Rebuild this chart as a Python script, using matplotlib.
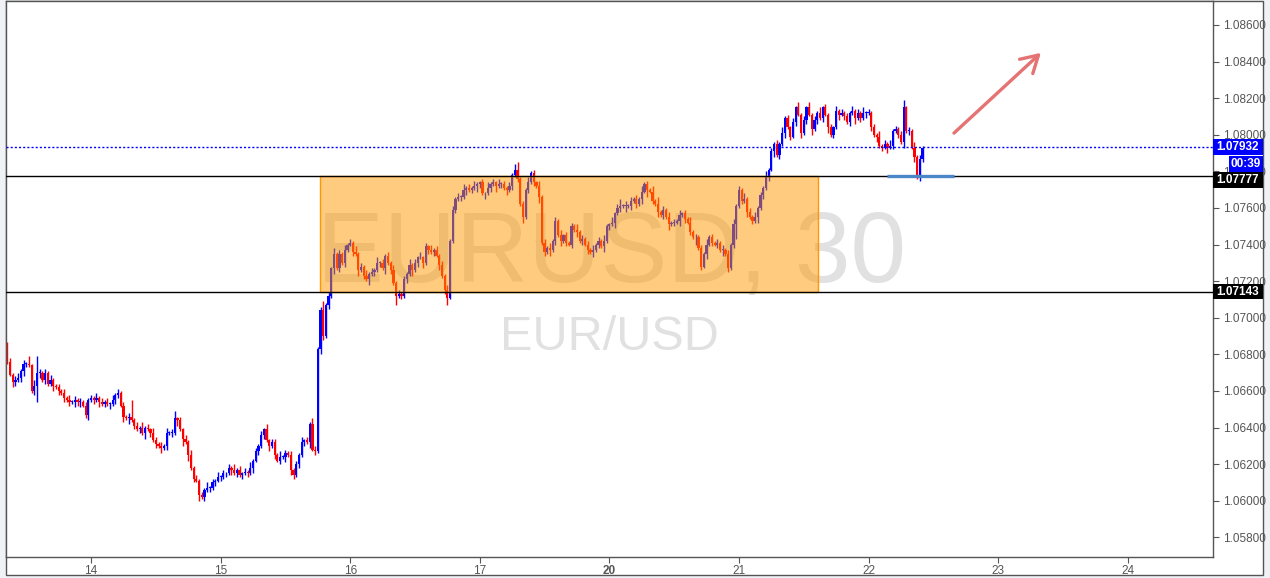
import numpy as np
import matplotlib
matplotlib.use("Agg")
import matplotlib.pyplot as plt
from matplotlib.patches import Rectangle
from matplotlib.transforms import blended_transform_factory

plt.rcParams['font.family'] = ['Liberation Sans', 'DejaVu Sans']

# EUR/USD 30-minute closes, in pips above 1.06000
first_open = 78
pre_close = [76, 69, 65, 66, 67, 71, 75, 75, 74, 60, 63, 70, 70, 66, 70, 64,
             66, 63, 62, 60, 59, 56, 55, 54, 54, 55, 54, 54, 52, 47, 55]
day14_close = [56, 55, 56, 54, 53, 54, 53, 53, 55, 58, 59, 52, 46, 45, 46, 44,
               41, 39, 40, 37, 40, 39, 37, 33, 31, 30, 29, 30, 37, 37, 37, 45,
               44, 39, 34, 32, 25, 18, 12, 11, 3, 2, 6, 7, 7, 10, 11, 13]
day15_close = [13, 15, 15, 18, 17, 15, 17, 14, 15, 16, 15, 18, 22, 27, 30, 36,
               39, 33, 30, 32, 25, 22, 24, 24, 26, 25, 17, 14, 20, 25, 32, 33,
               32, 42, 28, 27, 83, 104, 90, 107, 112, 127, 135, 127, 135, 130, 137, 140]
day16_close = [141, 136, 135, 126, 128, 123, 121, 124, 125, 126, 130, 130, 127, 134, 130, 126,
               119, 112, 113, 112, 121, 124, 129, 126, 130, 133, 133, 130, 139, 137, 136, 137,
               134, 129, 123, 115, 111, 142, 159, 165, 166, 166, 170, 171, 170, 171, 172, 173]
day17_close = [174, 168, 168, 171, 173, 174, 172, 173, 173, 171, 170, 172, 178, 181, 176, 162,
               155, 170, 174, 179, 174, 172, 166, 141, 136, 138, 137, 142, 153, 145, 142, 145,
               141, 140, 150, 148, 147, 142, 143, 140, 137, 136, 137, 140, 142, 139, 142, 150]
day20_close = [151, 152, 157, 160, 161, 161, 161, 161, 164, 165, 162, 165, 169, 173, 170, 169,
               164, 162, 158, 156, 159, 155, 151, 152, 152, 153, 156, 157, 154, 152, 147, 144,
               144, 138, 128, 135, 140, 144, 141, 140, 141, 137, 137, 135, 127, 140, 151, 161]
day21_close = [170, 164, 165, 158, 155, 153, 155, 160, 167, 171, 177, 181, 191, 195, 189, 195,
               201, 209, 204, 199, 207, 215, 211, 201, 208, 215, 211, 203, 208, 212, 209, 215,
               211, 204, 200, 204, 213, 211, 212, 210, 207, 212, 213, 209, 212, 209, 212, 212]
day22_close = [212, 204, 200, 199, 194, 193, 195, 193, 194, 202, 203, 200, 196, 215, 202, 202,
               193, 188, 177, 187, 193]

# wick lengths in pips, one digit per bar
up_wick = ("9212312141 3921213112 1213121212 1"
           "2131212131 2121291213 1213212131 2412121312 12131213"
           "1212131212 1312121312 2131212121 3121321251 21312131"
           "2131213121 3121213121 2131213121 3121213121 21312131"
           "1213121312 1213412131 2131213121 3121213121 21312131"
           "1312413121 2131213141 2131213121 3121213121 21312131"
           "2131213121 3121213121 2131213121 3121213121 21312131"
           "2121312131 2124121312 1")
down_wick = ("1132123211 2931211312 1212132312 3"
             "1213121312 2131312121 3121213121 2131413121 31212121"
             "2121312121 2131212131 2121313212 1213121321 21312121"
             "1213121312 1213121512 1213121312 1213124112 12131213"
             "2131213121 3121213121 2131213121 3121213121 21312131"
             "2131213121 2131412131 2131213121 2141213121 21312128"
             "1213121312 1213121312 1213121312 1213121312 12131213"
             "1213121312 1213121312 2")

day_labels = ['14', '15', '16', '17', '20', '21', '22', '23', '24']
bars_per_day = 48

support = 1.07143
resistance = 1.07777
last_price = 1.07932
zone_bars = (84.8, 269.3)
arrow_from = (318.9, 1.07999)
arrow_to = (352.6, 1.08458)
retest_bars = (294.8, 319.6)

closes = (pre_close + day14_close + day15_close + day16_close + day17_close
          + day20_close + day21_close + day22_close)
close = 1.06 + np.array(closes) / 1e4
open_ = np.r_[1.06 + first_open / 1e4, close[:-1]]
uw = np.array([int(c) for c in up_wick.replace(" ", "")])[:len(close)] / 1e4
dw = np.array([int(c) for c in down_wick.replace(" ", "")])[:len(close)] / 1e4
high = np.maximum(open_, close) + uw
low = np.minimum(open_, close) - dw
x = np.arange(len(close)) - len(pre_close)

W, H = 1270, 578
fig = plt.figure(figsize=(W / 100, H / 100), dpi=100, facecolor='#f1f2f6')
fig.add_artist(Rectangle((6 / W, 3 / H), 1257 / W, 574 / H, transform=fig.transFigure,
                         facecolor='white', edgecolor='#555555', lw=1, zorder=-10))
ax = fig.add_axes([6 / W, 21 / H, 1207 / W, 556 / H])
ax.set_facecolor('white')

# watermark
ax.text(192.8, 1.07196, 'EURUSD, 30', fontsize=72, color='#e1e1e1',
        ha='center', va='baseline', zorder=0)
ax.text(192.2, 1.06824, 'EUR/USD', fontsize=35, color='#e1e1e1',
        ha='center', va='baseline', zorder=0)

# candles
colors = np.where(close >= open_, '#0000ff', '#ff0000')
ax.vlines(x, low, high, colors=colors, lw=1.0, zorder=2)
ax.bar(x, np.maximum(np.abs(close - open_), 0.00004), bottom=np.minimum(open_, close),
       width=0.82, color=colors, linewidth=0, zorder=2)

# consolidation zone
ax.add_patch(Rectangle((zone_bars[0], support), zone_bars[1] - zone_bars[0],
                       resistance - support, facecolor=(1, 0.6, 0, 0.5),
                       edgecolor='#ff9800', lw=1, zorder=3))

ax.axhline(resistance, color='black', lw=1, zorder=4)
ax.axhline(support, color='black', lw=1, zorder=4)
ax.axhline(last_price, color='#0000ff', lw=1, ls=(0, (1.5, 1.5)), zorder=4)
ax.plot(retest_bars, [resistance - 0.00003] * 2, color='#4a86c8', lw=2.4,
        solid_capstyle='butt', zorder=5)
ax.annotate('', xy=arrow_to, xytext=arrow_from,
            arrowprops=dict(arrowstyle='->,head_length=0.6,head_width=0.35',
                            mutation_scale=20, color='#e57373', lw=2.4))

ax.set_xlim(-31.5, 415.6)
ax.set_ylim(1.056929, 1.087311)

ax.yaxis.tick_right()
ax.set_yticks(np.arange(1.058, 1.0861, 0.002))
ax.yaxis.set_major_formatter(plt.FormatStrFormatter('%.5f'))
ax.set_xticks(np.arange(len(day_labels)) * bars_per_day, day_labels)
for lbl in ax.get_xticklabels():
    if lbl.get_text() == '20':
        lbl.set_fontweight('bold')
ax.tick_params(axis='both', direction='out', length=4, color='#555555',
               labelsize=8.5, labelcolor='#555555')
ax.tick_params(axis='x', pad=2)
ax.tick_params(axis='y', pad=3)
for sp in ax.spines.values():
    sp.set_color('#555555')
    sp.set_linewidth(1)

# price tags on the right scale
tr = blended_transform_factory(ax.transAxes, ax.transData)
tag_h = 0.00086


def price_tag(center, text, color, x0=1.0):
    ax.add_patch(Rectangle((x0, center - tag_h / 2), 1.0414 - x0, tag_h, transform=tr,
                           facecolor=color, edgecolor='none', clip_on=False, zorder=6))
    ax.text((x0 + 1.0414) / 2, center, text, transform=tr, color='white', fontsize=8.5,
            fontweight='bold', ha='center', va='center', clip_on=False, zorder=7)


price_tag(last_price, '%.5f' % last_price, '#0000ff')
price_tag(last_price - 0.00092, '00:39', '#0000ff', x0=1.0133)
price_tag(resistance - 0.00025, '%.5f' % resistance, 'black')
price_tag(support, '%.5f' % support, 'black')

fig.savefig('out.png', dpi=100, facecolor=fig.get_facecolor())
